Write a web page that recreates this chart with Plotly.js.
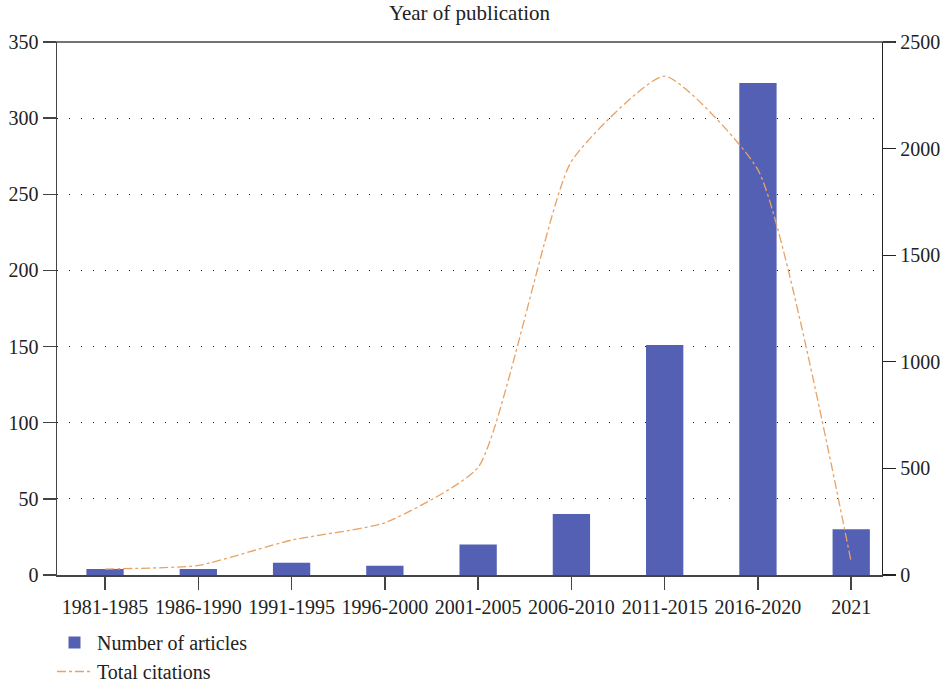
<!DOCTYPE html>
<html>
<head>
<meta charset="utf-8">
<script src="https://cdn.plot.ly/plotly-3.0.1.min.js"></script>
<style>html,body{margin:0;padding:0;background:#fff;}#chart{width:947px;height:682px;}</style>
</head>
<body>
<div id="chart"></div>
<script>
const categories = ["1981-1985","1986-1990","1991-1995","1996-2000","2001-2005","2006-2010","2011-2015","2016-2020","2021"];
const articles = [4, 4, 8, 6, 20, 40, 151, 323, 30];
const citations = [28, 45, 164, 245, 505, 1940, 2340, 1900, 60];
const leftTicks = [0, 50, 100, 150, 200, 250, 300, 350];
const rightTicks = [0, 500, 1000, 1500, 2000, 2500];

const fam = "Liberation Serif, Times New Roman, serif";
const tickFont = {family: fam, size: 20, color: "#222"};

const traces = [
  {
    type: "bar", name: "Number of articles", x: categories, y: articles,
    marker: {color: "#5360b4"}, width: 0.4, yaxis: "y"
  },
  {
    type: "scatter", mode: "lines", name: "Total citations", x: categories, y: citations,
    line: {color: "#e8a263", width: 1.3, dash: "dashdot", shape: "spline", smoothing: 0.5},
    yaxis: "y2"
  }
];

const layout = {
  width: 947, height: 682,
  margin: {l: 57, r: 65, t: 42, b: 107, autoexpand: false},
  paper_bgcolor: "#fff", plot_bgcolor: "#fff",
  font: tickFont,
  title: {text: "Year of publication", font: {family: fam, size: 21, color: "#222"},
          x: 0.5, xref: "paper", y: 1 - 13/682, yref: "container", yanchor: "middle"},
  showlegend: true,
  legend: {x: 52/947, xref: "container", xanchor: "left", y: (682 - 623)/682, yref: "container", yanchor: "top",
           orientation: "v",
           font: {family: fam, size: 20, color: "#222"}, bgcolor: "rgba(0,0,0,0)",
           tracegroupgap: 0, itemwidth: 35},
  xaxis: {
    type: "category", range: [-0.515, 8.33], tickangle: 0,
    showline: true, linecolor: "#444", linewidth: 1.5,
    ticks: "outside", ticklen: 13, tickcolor: "#444", tickwidth: 1.5,
    showgrid: false, zeroline: false,
    tickfont: tickFont
  },
  yaxis: {
    range: [0, 350], tickvals: leftTicks,
    showline: true, linecolor: "#444", linewidth: 1.5,
    ticks: "outside", ticklen: 13, tickcolor: "#444", tickwidth: 1.5,
    showgrid: true, gridcolor: "#222", gridwidth: 1, griddash: "1px,11px",
    zeroline: false,
    tickfont: tickFont
  },
  yaxis2: {
    range: [0, 2500], tickvals: rightTicks, overlaying: "y", side: "right",
    showline: true, linecolor: "#222", linewidth: 1.2,
    ticks: "outside", ticklen: 13, tickcolor: "#222", tickwidth: 1.2,
    showgrid: false, zeroline: false,
    tickfont: tickFont
  },
  shapes: [
    {type: "line", xref: "paper", yref: "paper", x0: -0.016, x1: 1.016, y0: 1, y1: 1,
     line: {color: "#444", width: 1.5}}
  ]
};

Plotly.newPlot("chart", traces, layout, {displayModeBar: false, staticPlot: true});
</script>
</body>
</html>
